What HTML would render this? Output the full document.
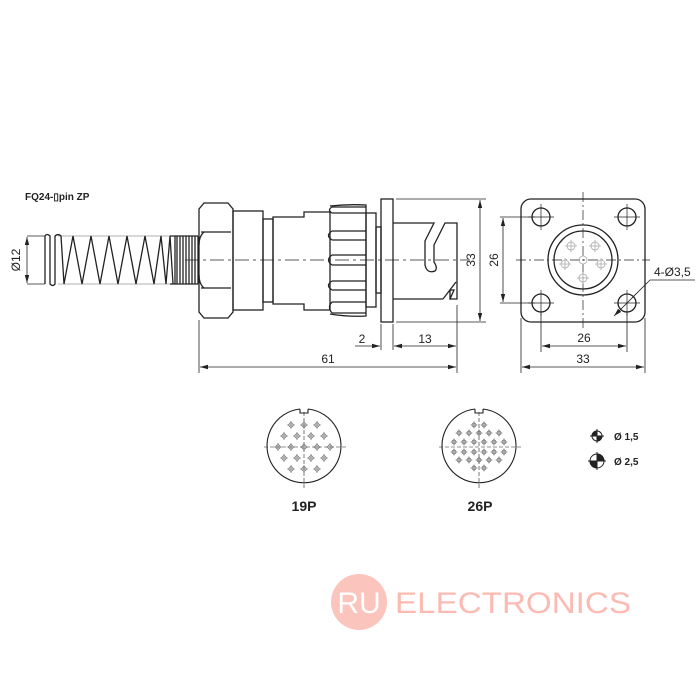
<!DOCTYPE html>
<html><head><meta charset="utf-8"><style>
html,body{margin:0;padding:0;background:#fff;width:700px;height:700px;overflow:hidden}
svg{display:block}
text{font-family:"Liberation Sans",sans-serif;fill:#222}
</style></head><body>
<svg width="700" height="700" viewBox="0 0 700 700" xmlns="http://www.w3.org/2000/svg">
<defs>
<marker id="a" markerWidth="8" markerHeight="6" refX="8" refY="3" orient="auto-start-reverse" markerUnits="userSpaceOnUse"><path d="M0,0.8 L8,3 L0,5.2 Z" fill="#222"/></marker>
<g id="pn"><circle r="2.2" fill="none" stroke="#555" stroke-width="0.7"/><path d="M-4,0h8M0,-4v8" stroke="#555" stroke-width="0.6"/></g>
<g id="ps"><circle r="2" fill="none" stroke="#555" stroke-width="0.7"/><path d="M-3.5,0h7M0,-3.5v7" stroke="#555" stroke-width="0.6"/></g>
</defs>
<text x="25" y="200" font-size="10" font-weight="bold">FQ24-▯pin ZP</text>

<g stroke="#222" fill="none" stroke-width="1.3">
<line x1="58" y1="236" x2="198" y2="236" stroke-width="0.7" stroke="#999"/>
<line x1="58" y1="284" x2="198" y2="284" stroke-width="0.7" stroke="#999"/>
<path d="M45,284 L45,236 M45,236 Q47,233 50,236 L50,284 Q53,287 55,284 L55,236 Q58,233 61,236 L64,284 L73,236 L82,284 L91,236 L100,284 L109,236 L118,284 L127,236 L136,284 L145,236 L154,284 L161,236 L166,284 L170,236 L173,284"/>
<path d="M172,236 h3 v48 M177,236 v48 M180,236 v48 M183,236 v48 M186,236 v48 M189,236 v48 M192,236 v48 M195,236 v48 M198,236 v48 M170,284 h28 M170,236 h28"/>
<path d="M204,203 H228 L233,209 V312 L228,318 H204 L199,312 V209 Z"/>
<path d="M201,232 H231 M201,288 H231"/>
<path d="M204,232 Q199,236 199,245 M204,288 Q199,284 199,275"/>
<rect x="233" y="211" width="30" height="99"/>
<rect x="263" y="219" width="10" height="83"/>
<path d="M273,217 H304 V212 H330 V310 H304 V304 H273 Z"/>
<path d="M332,207 H366 M332,213 H366 M332,207 Q327,210 332,213"/>
<path d="M332,231 H366 M332,240 H366 M332,231 Q325,235.5 332,240"/>
<path d="M332,255 H366 M332,265 H366 M332,255 Q325,260 332,265"/>
<path d="M332,281 H366 M332,290 H366 M332,281 Q325,285.5 332,290"/>
<path d="M332,302 H366 M332,313 H366 M332,302 Q327,307 332,313"/>
<path d="M330,206 Q348,204 366,205 V316 Q348,317 330,314"/>
<rect x="366" y="213" width="10" height="94"/>
<rect x="376" y="227" width="5" height="66"/>
<rect x="381" y="199" width="12" height="123"/>
<path d="M393,223 H434 L425,241 V265 Q427,274 435,271 Q438,268 434,262 V245 L445,223 H457 V299 H450 L454,290 H450 V299 M443,299 L456,282 M443,299 H393"/>
<line x1="185" y1="260" x2="470" y2="260" stroke-width="0.7" stroke-dasharray="14,4,3,4"/>
</g>

<g stroke="#222" stroke-width="0.8" fill="none">
<line x1="27" y1="236" x2="45" y2="236"/><line x1="27" y1="284" x2="45" y2="284"/>
<line x1="27" y1="237" x2="27" y2="283" marker-start="url(#a)" marker-end="url(#a)"/>
<line x1="199" y1="320" x2="199" y2="373"/>
<line x1="457" y1="305" x2="457" y2="373"/>
<line x1="381" y1="324" x2="381" y2="350"/>
<line x1="393" y1="324" x2="393" y2="350"/>
<line x1="200" y1="367" x2="456" y2="367" marker-start="url(#a)" marker-end="url(#a)"/>
<line x1="355" y1="346" x2="380" y2="346" marker-end="url(#a)"/>
<line x1="394" y1="346" x2="456" y2="346" marker-start="url(#a)" marker-end="url(#a)"/>
<line x1="396" y1="199" x2="486" y2="199"/><line x1="396" y1="322" x2="486" y2="322"/>
<line x1="480" y1="200" x2="480" y2="321" marker-start="url(#a)" marker-end="url(#a)"/>
</g>
<text x="16" y="260" font-size="12" text-anchor="middle" transform="rotate(-90 16 260)" dy="4">Ø12</text>
<text x="328" y="363" font-size="12" text-anchor="middle">61</text>
<text x="362" y="343" font-size="12" text-anchor="middle">2</text>
<text x="425" y="343" font-size="12" text-anchor="middle">13</text>
<text x="471" y="260" font-size="12" text-anchor="middle" transform="rotate(-90 471 260)" dy="4">33</text>

<g stroke="#222" fill="none" stroke-width="1.3">
<rect x="521" y="199" width="124" height="123" rx="10"/>
<circle cx="583" cy="260" r="35"/>
<circle cx="583" cy="260" r="29"/>
<circle cx="541" cy="217" r="9"/><circle cx="627" cy="217" r="9"/>
<circle cx="541" cy="303" r="9"/><circle cx="627" cy="303" r="9"/>
</g>
<g stroke="#222" fill="none" stroke-width="0.7">
<line x1="583" y1="192" x2="583" y2="330" stroke-dasharray="10,3,2,3"/>
<line x1="516" y1="260" x2="650" y2="260" stroke-dasharray="10,3,2,3"/>
<path d="M528,217h26M541,204v26M614,217h26M627,204v26M528,303h26M541,290v26M614,303h26M627,290v26"/>
</g>
<g stroke="#aaa" fill="none" stroke-width="0.8">
<circle cx="571" cy="246" r="4"/><circle cx="595" cy="246" r="4"/><circle cx="583" cy="260" r="4"/>
<circle cx="565" cy="264" r="4"/><circle cx="601" cy="264" r="4"/><circle cx="583" cy="278" r="4"/>
<path d="M565,246h12M571,240v12M589,246h12M595,240v12M559,264h12M565,258v12M595,264h12M601,258v12M577,278h12M583,272v12"/>
</g>
<g stroke="#222" stroke-width="0.8" fill="none">
<line x1="500" y1="217" x2="535" y2="217"/><line x1="500" y1="303" x2="535" y2="303"/>
<line x1="503" y1="218" x2="503" y2="302" marker-start="url(#a)" marker-end="url(#a)"/>
<line x1="541" y1="312" x2="541" y2="352"/><line x1="627" y1="312" x2="627" y2="352"/>
<line x1="542" y1="346" x2="626" y2="346" marker-start="url(#a)" marker-end="url(#a)"/>
<line x1="521" y1="318" x2="521" y2="373"/><line x1="645" y1="318" x2="645" y2="373"/>
<line x1="522" y1="367" x2="644" y2="367" marker-start="url(#a)" marker-end="url(#a)"/>
<line x1="650" y1="280" x2="614" y2="316" marker-end="url(#a)"/>
<line x1="650" y1="280" x2="695" y2="280"/>
</g>
<text x="494" y="260" font-size="12" text-anchor="middle" transform="rotate(-90 494 260)" dy="4">26</text>
<text x="584" y="342" font-size="12" text-anchor="middle">26</text>
<text x="583" y="363" font-size="12" text-anchor="middle">33</text>
<text x="654" y="276" font-size="12">4-Ø3,5</text>

<g stroke="#222" fill="none" stroke-width="1.1">
<path d="M300,409 A37,37 0 1 0 308,409"/>
<path d="M300,409 v4 h8 v-4"/>
<path d="M475,409 A37,37 0 1 0 483,409 M475,409 v4 h8 v-4"/>
</g>
<g stroke="#222" stroke-width="0.6" stroke-dasharray="4,2">
<line x1="264" y1="447" x2="346" y2="447"/><line x1="304" y1="412" x2="304" y2="490"/>
<line x1="439" y1="447" x2="521" y2="447"/><line x1="479" y1="412" x2="479" y2="490"/>
</g>
<g>
<use href="#pn" x="291" y="425"/><use href="#pn" x="304" y="425"/><use href="#pn" x="317" y="425"/>
<use href="#pn" x="284" y="436"/><use href="#pn" x="297" y="436"/><use href="#pn" x="311" y="436"/><use href="#pn" x="324" y="436"/>
<use href="#pn" x="278" y="447"/><use href="#pn" x="291" y="447"/><use href="#pn" x="304" y="447"/><use href="#pn" x="317" y="447"/><use href="#pn" x="330" y="447"/>
<use href="#pn" x="284" y="458"/><use href="#pn" x="297" y="458"/><use href="#pn" x="311" y="458"/><use href="#pn" x="324" y="458"/>
<use href="#pn" x="291" y="469"/><use href="#pn" x="304" y="469"/><use href="#pn" x="317" y="469"/>
</g>
<g>
<use href="#ps" x="474" y="425"/><use href="#ps" x="484" y="425"/>
<use href="#ps" x="459" y="433"/><use href="#ps" x="469" y="433"/><use href="#ps" x="479" y="433"/><use href="#ps" x="489" y="433"/><use href="#ps" x="499" y="433"/>
<use href="#ps" x="454" y="442"/><use href="#ps" x="464" y="442"/><use href="#ps" x="474" y="442"/><use href="#ps" x="484" y="442"/><use href="#ps" x="494" y="442"/><use href="#ps" x="504" y="442"/>
<use href="#ps" x="454" y="452"/><use href="#ps" x="464" y="452"/><use href="#ps" x="474" y="452"/><use href="#ps" x="484" y="452"/><use href="#ps" x="494" y="452"/><use href="#ps" x="504" y="452"/>
<use href="#ps" x="459" y="460"/><use href="#ps" x="469" y="460"/><use href="#ps" x="479" y="460"/><use href="#ps" x="489" y="460"/><use href="#ps" x="499" y="460"/>
<use href="#ps" x="474" y="468"/><use href="#ps" x="484" y="468"/>
</g>
<text x="304" y="511" font-size="14" font-weight="bold" text-anchor="middle">19P</text>
<text x="480" y="511" font-size="14" font-weight="bold" text-anchor="middle">26P</text>

<g stroke="#222" stroke-width="1">
<circle cx="597" cy="436" r="5" fill="#fff"/>
<path d="M597,436 V431 A5,5 0 0 0 592,436 Z M597,436 V441 A5,5 0 0 0 602,436 Z" fill="#222"/>
<path d="M590,436h14M597,429v14" fill="none"/>
<circle cx="597" cy="461" r="7" fill="#fff"/>
<path d="M597,461 V454 A7,7 0 0 1 604,461 Z M597,461 V468 A7,7 0 0 1 590,461 Z" fill="#222"/>
<path d="M588,461h18M597,452v18" fill="none"/>
</g>
<text x="614" y="440" font-size="10" font-weight="bold">Ø  1,5</text>
<text x="614" y="465" font-size="10" font-weight="bold">Ø  2,5</text>

<circle cx="359" cy="602" r="28" fill="#fbc4bc"/>
<text x="359" y="613" font-size="30" text-anchor="middle" style="fill:#fff">RU</text>
<text x="395" y="613" font-size="30" style="fill:#fbbab2" textLength="236" lengthAdjust="spacingAndGlyphs">ELECTRONICS</text>
</svg>
</body></html>
